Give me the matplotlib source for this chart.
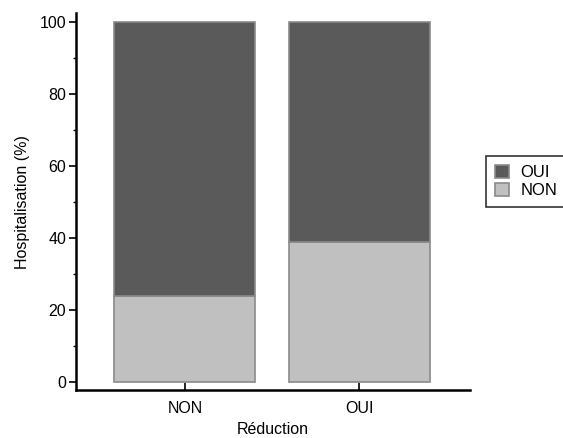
import matplotlib
matplotlib.use('Agg')
import matplotlib.pyplot as plt
from matplotlib.ticker import MultipleLocator

plt.rcParams['font.family'] = ['Liberation Sans', 'DejaVu Sans']

# data
categories = ['NON', 'OUI']
hosp_non = [24, 39]
hosp_oui = [76, 61]

dark = '#5a5a5a'
light = '#c0c0c0'
edge = '#8a8a8a'

fig = plt.figure(figsize=(5.63, 4.38), dpi=100)
ax = fig.add_axes([0.135, 0.1096, 0.700, 0.860])

x = range(len(categories))
b_non = ax.bar(x, hosp_non, width=0.81, color=light, edgecolor=edge, linewidth=1.2, label='NON')
b_oui = ax.bar(x, hosp_oui, width=0.81, bottom=hosp_non, color=dark, edgecolor=edge, linewidth=1.2, label='OUI')

ax.set_xlim(-0.626, 1.638)
ax.set_ylim(-2.2, 102.5)
ax.set_xticks(list(x))
ax.set_xticklabels(categories, fontsize=11.5)
ax.yaxis.set_major_locator(MultipleLocator(20))
ax.yaxis.set_minor_locator(MultipleLocator(10))
ax.tick_params(axis='y', which='major', direction='out', length=5, width=1.2, labelsize=11.5, pad=2)
ax.tick_params(axis='y', which='minor', direction='out', length=2.5, width=1)
ax.tick_params(axis='x', direction='in', length=5, width=1.2, pad=8)

for s in ['top', 'right']:
    ax.spines[s].set_visible(False)
for s in ['left', 'bottom']:
    ax.spines[s].set_linewidth(1.8)

ax.set_ylabel('Hospitalisation (%)', fontsize=11.5, labelpad=7)
ax.set_xlabel('Réduction', fontsize=11.5, labelpad=4)

leg = ax.legend(handles=[b_oui, b_non], labels=['OUI', 'NON'], loc='upper left',
                bbox_to_anchor=(486 / 563, 1 - 156 / 438), bbox_transform=fig.transFigure,
                fontsize=12, fancybox=False, frameon=True, borderpad=0.55,
                handlelength=0.8, handleheight=0.8, handletextpad=0.7, labelspacing=0.15,
                borderaxespad=0)
leg.get_frame().set_edgecolor('black')
leg.get_frame().set_linewidth(1.2)

fig.savefig('out.png', dpi=100)
